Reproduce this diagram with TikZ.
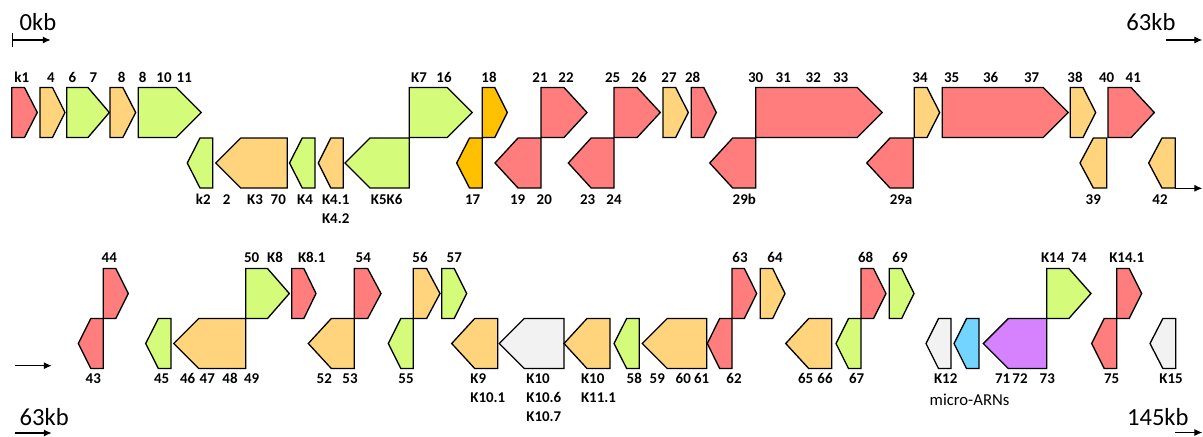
\documentclass[tikz,border=0pt]{standalone}
\usepackage{fontspec}
\setmainfont{Carlito}
\usepackage{tikz}
\usetikzlibrary{arrows.meta}

\definecolor{gred}{RGB}{255,125,125}
\definecolor{gorange}{RGB}{255,212,125}
\definecolor{ggreen}{RGB}{212,252,122}
\definecolor{gdeep}{RGB}{255,192,0}
\definecolor{ggrey}{RGB}{242,242,242}
\definecolor{gblue}{RGB}{115,212,255}
\definecolor{gpurple}{RGB}{214,130,255}

\tikzset{
  gene/.style={draw=black, line width=0.75pt, line join=miter},
  lab/.style={font=\fontsize{8.5}{10}\selectfont\bfseries, anchor=base, inner sep=0pt},
  labl/.style={lab, anchor=base west},
  kbtext/.style={font=\fontsize{14}{16}\selectfont, anchor=base west, inner sep=0pt},
  scalearr/.style={-{Latex[length=4.5pt,width=4pt]}, line width=0.6pt}
}

% forward gene: x1, x2, top, fill
\newcommand{\Fwd}[4]{%
  \pgfmathsetmacro{\gtip}{min(#2-#1,50)/2}
  \draw[gene, fill=#4] (#1,#3) -- ({#2-\gtip},#3) -- (#2,#3+25) -- ({#2-\gtip},#3+50) -- (#1,#3+50) -- cycle;}
% reverse gene: tip x, right x, top, fill
\newcommand{\Rev}[4]{%
  \pgfmathsetmacro{\gtip}{min(#2-#1,50)/2}
  \draw[gene, fill=#4] (#2,#3) -- ({#1+\gtip},#3) -- (#1,#3+25) -- ({#1+\gtip},#3+50) -- (#2,#3+50) -- cycle;}

\begin{document}
\begin{tikzpicture}[x=0.02cm, y=-0.02cm]
    \useasboundingbox (0,0) rectangle (1203,436);

    % first row, 0kb to 63kb
    \foreach \a/\b/\c in {11.7/37.3/gred, 40/65/gorange, 66.7/109.3/ggreen, 110/135.7/gorange,
        138.3/201.3/ggreen, 409.3/472.3/ggreen, 482.3/507.3/gdeep, 541/587/gred, 614/660.3/gred,
        663/688.3/gorange, 691.3/716.3/gred, 755.7/882.3/gred, 914.3/939.7/gorange,
        942.3/1068.3/gred, 1070.3/1095.7/gorange, 1108/1154.3/gred}
        \Fwd{\a}{\b}{87.5}{\c};
    \foreach \a/\b/\c in {187.3/212.7/ggreen, 215.7/287.3/gorange, 289.5/315/ggreen,
        318.3/343.3/gorange, 345/409.3/ggreen, 456.7/482.3/gdeep, 495/541/gred, 568.3/614/gred,
        709.7/755.7/gred, 866.7/913.3/gred, 1080/1106.7/gorange, 1148.7/1175.3/gorange}
        \Rev{\a}{\b}{138}{\c};

    % second row, 63kb to 145kb
    \foreach \a/\b/\c in {103.3/128.3/gred, 245.7/289.3/ggreen, 291.7/316/gred, 354.3/381/gred,
        413.3/440/gorange, 441.7/466.7/ggreen, 732/756.7/gred, 760.3/785/gorange, 861/886/gred,
        889.3/914/ggreen, 1046.7/1091/ggreen, 1116.7/1141.7/gred}
        \Fwd{\a}{\b}{268.5}{\c};
    \foreach \a/\b/\c in {78.3/103.3/gred, 145.7/171/ggreen, 173.7/245.7/gorange,
        308.3/354.3/gorange, 388.3/413.3/ggreen, 451.7/497.7/gorange, 499.3/564/ggrey,
        564/610/gorange, 614/639.3/ggreen, 642.3/706.7/gorange, 707.3/732/gred,
        785.7/831.7/gorange, 836/861/ggreen, 926/951/ggrey, 954/979/gblue,
        983.3/1046.7/gpurple, 1091.7/1116.7/gred, 1150/1175.7/ggrey}
        \Rev{\a}{\b}{318.5}{\c};

    % gene labels
    \foreach \x/\t [count=\i] in {21.7/k1, 51/4, 72.3/6, 93.3/7, 121.7/8, 142.7/8, 164/10, 184.3/11,
        419/K7, 444/16, 489/18, 540/21, 566/22, 612.7/25, 639/26, 669/27, 692.7/28, 755.7/30,
        783.3/31, 813.3/32, 840.7/33, 920/34, 951.7/35, 990.7/36, 1031.7/37, 1075/38,
        1106.7/40, 1133.3/41}
        \node[lab] (ua\i) at (\x,82) {\t};
    \foreach \x/\t [count=\i] in {203.3/k2, 226.7/2, 255/K3, 278.3/70, 305/K4, 386.7/K5K6,
        472.7/17, 517.7/19, 544.3/20, 587.7/23, 614/24, 744.3/29b, 901/29a, 1093.3/39, 1160/42}
        \node[lab] (la\i) at (\x,204) {\t};
    \foreach \x/\t [count=\i] in {109.3/44, 251.7/50, 275/K8, 311.7/K8.1, 363.3/54, 420/56,
        454.3/57, 740/63, 775/64, 865.7/68, 900/69, 1052.7/K14, 1079/74, 1126.7/K14.1}
        \node[lab] (ub\i) at (\x,262) {\t};
    \foreach \x/\t [count=\i] in {93.3/43, 161.7/45, 187.7/46, 207.3/47, 230/48, 251.7/49,
        324.3/52, 350/53, 406/55, 634.3/58, 657.3/59, 683.3/60, 701.7/61, 734/62, 805.7/65,
        825/66, 856.7/67, 945.7/K12, 1002.7/71, 1020/72, 1047.3/73, 1111.7/75, 1171/K15}
        \node[lab] (lb\i) at (\x,383.3) {\t};
    \foreach \x/\y/\t [count=\i] in {321.7/204/K4.1, 321.7/223/K4.2, 470/383.3/K9,
        470/402.5/K10.1, 526/383.3/K10, 526/402.5/K10.6, 526/421.7/K10.7, 580.7/383.3/K10,
        580.7/402.5/K11.1}
        \node[labl] (ml\i) at (\x,\y) {\t};
    \node[anchor=base west, inner sep=0pt, font=\fontsize{9.5}{11}\selectfont] (mirna) at (929.3,405.7) {micro-ARNs};

    % scale
    \node[kbtext] (kb0) at (19.3,30.7) {0kb};
    \node[kbtext] (kb63a) at (1126,30.7) {63kb};
    \node[kbtext] (kb63b) at (19.3,425) {63kb};
    \node[kbtext] (kb145) at (1126.7,425) {145kb};
    \coordinate (s0) at (11.7,40);
    \coordinate (e0) at (50.7,40);
    \coordinate (s1) at (1165.7,40);
    \coordinate (e1) at (1202.3,40);
    \coordinate (s2) at (1175.3,188.3);
    \coordinate (e2) at (1202.3,188.3);
    \coordinate (s3) at (15,365.7);
    \coordinate (e3) at (51.7,365.7);
    \coordinate (s4) at (15,433);
    \coordinate (e4) at (51.7,433);
    \coordinate (s5) at (1175,432.5);
    \coordinate (e5) at (1202.3,432.5);
    \draw[scalearr, {Bar[width=8.5pt,line width=1pt]}-{Latex[length=4.5pt,width=4pt]}] (s0) -- (e0);
    \draw[scalearr] (s1) -- (e1);
    \draw[scalearr] (s2) -- (e2);
    \draw[scalearr] (s3) -- (e3);
    \draw[scalearr] (s4) -- (e4);
    \draw[scalearr] (s5) -- (e5);

\end{tikzpicture}
\end{document}
